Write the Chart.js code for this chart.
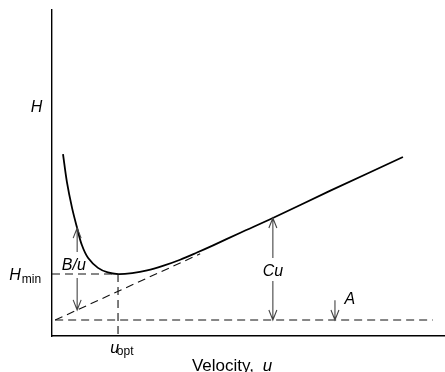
<!DOCTYPE html>
<html>
<head>
<meta charset="utf-8">
<script src="https://cdn.jsdelivr.net/npm/chart.js@4"></script>
<style>
html,body{margin:0;padding:0;background:#fff;}
#wrap{width:445px;height:372px;position:relative;}
</style>
</head>
<body>
<div id="wrap"><canvas id="c" width="445" height="372"></canvas></div>
<script>
// Van Deemter curve (u = velocity, H = plate height, arbitrary units)
const uCurve = [0.28,0.38,0.51,0.64,0.76,0.92,1.17,1.42,1.68,2.04,2.42,2.82,3.26,3.69,4.10,4.78,5.62,7.07,8.93];
const hCurve = [5.58,4.72,3.93,3.31,2.79,2.39,2.09,1.95,1.90,1.93,2.01,2.15,2.34,2.56,2.78,3.16,3.62,4.45,5.49];

// A term (horizontal dashed line)
const uA = [0.08, 9.69];
const hA = [0.49, 0.49];
// A + Cu asymptote (dashed)
const uAsym = [0.08, 3.77];
const hAsym = [0.49, 2.52];
// H_min level and u_opt marker
const uOpt = 1.68;
const hMin = 1.90;

// Arrows: x position, from H, to H
const arrowU    = [0.64, 0.64, 5.62, 5.62, 7.20];
const arrowFrom = [2.58, 1.78, 2.39, 1.69, 1.10];
const arrowTo   = [3.31, 0.80, 3.62, 0.49, 0.49];

const pts = (xs, ys) => xs.map((x, i) => ({x: x, y: ys[i]}));

const FONT = '"Liberation Sans", Arial, Helvetica, sans-serif';
// text annotations anchored in data coordinates (left / baseline)
const labels = [
  {t:'H',   u:-0.54, h:6.88, it:true,  s:16},
  {t:'H',   u:-1.09, h:1.72, it:true,  s:16},
  {t:'min', u:-0.77, h:1.63, it:false, s:12},
  {t:'B/u', u:0.25,  h:2.02, it:true,  s:16},
  {t:'Cu',  u:5.36,  h:1.84, it:true,  s:16},
  {t:'A',   u:7.44,  h:0.97, it:true,  s:16},
  {t:'u',   u:1.48,  h:-0.52, it:true, s:16},
  {t:'opt', u:1.65,  h:-0.58, it:false, s:12},
  {t:'Velocity,', u:3.56, h:-1.07, it:false, s:17},
  {t:'u',   u:5.36,  h:-1.07, it:true,  s:17}
];

const annot = {
  id: 'annot',
  afterDatasetsDraw(chart) {
    const ctx = chart.ctx, xs = chart.scales.x, ys = chart.scales.y;
    ctx.save();
    // arrows
    ctx.strokeStyle = '#444';
    ctx.lineWidth = 1.1;
    for (let i = 0; i < arrowU.length; i++) {
      const x = xs.getPixelForValue(arrowU[i]);
      const y0 = ys.getPixelForValue(arrowFrom[i]);
      const y1 = ys.getPixelForValue(arrowTo[i]);
      const d = y1 > y0 ? 1 : -1;
      ctx.beginPath();
      ctx.moveTo(x, y0); ctx.lineTo(x, y1);
      ctx.moveTo(x - 4, y1 - d * 10); ctx.lineTo(x, y1); ctx.lineTo(x + 4, y1 - d * 10);
      ctx.stroke();
    }
    // labels
    ctx.fillStyle = '#000';
    ctx.textBaseline = 'alphabetic';
    ctx.textAlign = 'left';
    labels.forEach(l => {
      ctx.font = (l.it ? 'italic ' : '') + l.s + 'px ' + FONT;
      ctx.fillText(l.t, xs.getPixelForValue(l.u), ys.getPixelForValue(l.h));
    });
    ctx.restore();
  }
};

const dash = {borderColor:'#111', borderWidth:1.1, borderDash:[8,5], pointRadius:0, showLine:true, fill:false, tension:0};

new Chart(document.getElementById('c'), {
  type: 'scatter',
  data: {
    datasets: [
      Object.assign({data: pts(uA, hA)}, dash),
      Object.assign({data: pts(uAsym, hAsym)}, dash),
      Object.assign({data: pts([0, uOpt], [hMin, hMin])}, dash),
      Object.assign({data: pts([uOpt, uOpt], [hMin, 0])}, dash),
      {data: pts(uCurve, hCurve), borderColor:'#000', borderWidth:1.8, pointRadius:0, showLine:true,
       fill:false, tension:0.35}
    ]
  },
  options: {
    responsive: false,
    animation: false,
    devicePixelRatio: 1,
    layout: {padding: {top: 10, right: 0, left: 0, bottom: 0}},
    plugins: {legend: {display: false}, tooltip: {enabled: false}},
    scales: {
      x: {type:'linear', min:0, max:10, grid:{display:false}, ticks:{display:false},
          border:{display:true, color:'#000', width:1.4},
          afterFit(s){ s.height = 36; }},
      y: {type:'linear', min:0, max:10, grid:{display:false}, ticks:{display:false},
          border:{display:true, color:'#000', width:1.4},
          afterFit(s){ s.width = 52; }}
    }
  },
  plugins: [annot]
});
</script>
</body>
</html>
